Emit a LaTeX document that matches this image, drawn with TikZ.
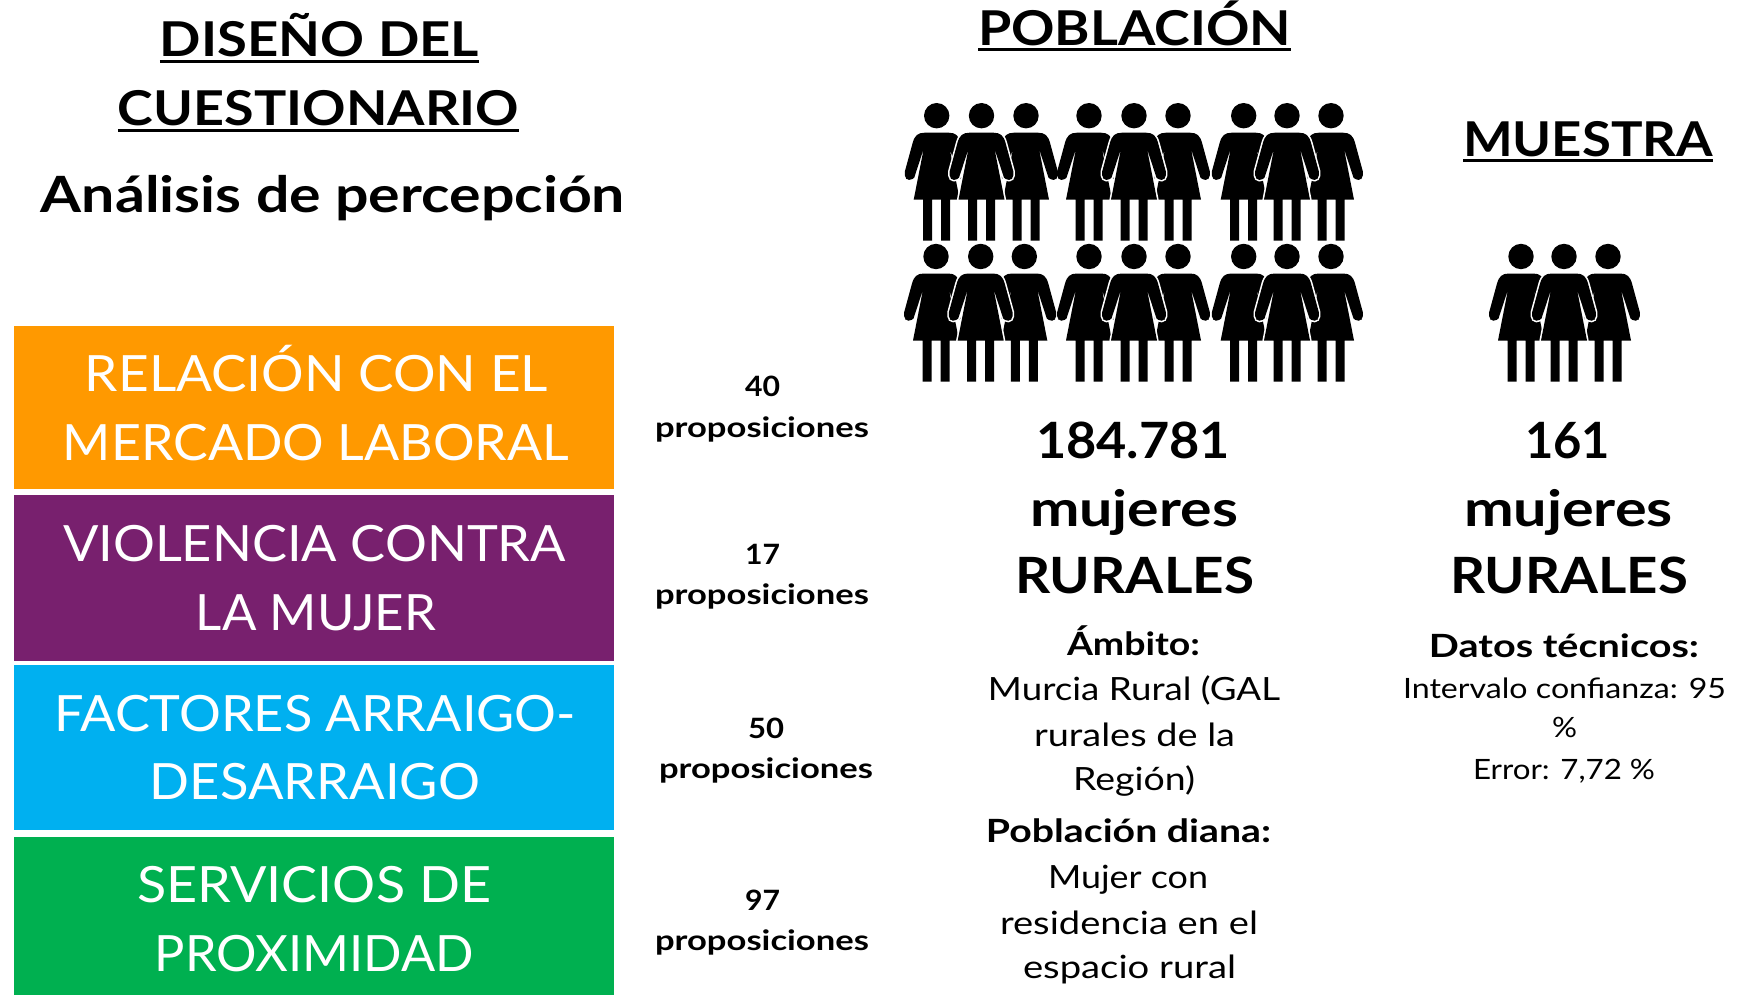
\documentclass[tikz,border=0pt]{standalone}
\usepackage{fontspec}
\setmainfont{Lato}
\definecolor{cOrange}{HTML}{FF9900}
\definecolor{cPurple}{HTML}{78206E}
\definecolor{cBlue}{HTML}{00B0F0}
\definecolor{cGreen}{HTML}{00B050}
\tikzset{
  band/.style={fill=#1,draw=none},
  lineText/.style={anchor=base,inner sep=0pt,outer sep=0pt,text=#1},
  lineText/.default=black,
  ulRule/.style={line width=1.4pt,black}
}
\newcommand{\fs}[1]{\fontsize{#1}{#1}\selectfont}
% name, x1, x2, baseline, font, text, colour
\newcommand{\tl}[7][black]{%
  \pgfmathsetmacro\tw{(#4-#3)*0.5}\pgfmathsetmacro\tc{(#4+#3)/2}%
  \node[lineText=#1] (#2) at (\tc,#5) {\resizebox{\tw pt}{\height}{#6#7}};}
\newcommand{\womanshape}{
  (-12.7,0) arc[start angle=180,end angle=-180,radius=12.7]
  (0,17) -- (12,17) .. controls (19,17) and (22,20) .. (24,27)
  [rounded corners=2.2pt] -- (33,60) -- (28,66) [rounded corners=0pt] -- (22.5,62)
  -- (13,33) -- (23,84) -- (13.5,84) -- (13.5,125) -- (4.5,125) -- (4.5,84)
  -- (-4.5,84) -- (-4.5,125) -- (-13.5,125) -- (-13.5,84) -- (-23,84) -- (-13,33)
  -- (-22.5,62) [rounded corners=2.2pt] -- (-28,66) -- (-33,60) [rounded corners=0pt]
  -- (-24,27) .. controls (-22,20) and (-19,17) .. (-12,17) -- cycle}
\newcommand{\woman}[2]{\begin{scope}[shift={(#1,#2)}]
  \fill[black] \womanshape;\end{scope}}
\newcommand{\womanhalo}[2]{\begin{scope}[shift={(#1,#2)}]
  \draw[white,line width=1.6pt,line join=round] \womanshape;
  \fill[black] \womanshape;\end{scope}}
\newcommand{\trio}[4]{\woman{#1}{#4}\woman{#3}{#4}\womanhalo{#2}{#4}}
\begin{document}
\begin{tikzpicture}[x=0.5pt,y=-0.5pt]
\useasboundingbox (0,0) rectangle (1737,995);
\fill[white] (0,0) rectangle (1737,995);
% bands
\fill[band=cOrange] (14,326) rectangle (614,489);
\fill[band=cPurple] (14,495) rectangle (614,661);
\fill[band=cBlue] (14,665) rectangle (614,830);
\fill[band=cGreen] (14,837) rectangle (614,995);
% headings
\tl{t1}{160}{479}{57}{\bfseries\fs{24}}{DISEÑO DEL}
\tl{t2}{118}{519}{126}{\bfseries\fs{24}}{CUESTIONARIO}
\tl{t3}{41}{625}{213}{\bfseries\fs{25}}{Análisis de percepción}
\draw[ulRule] ([yshift=-2.2pt]t1.base west) -- ([yshift=-2.2pt]t1.base east);
\draw[ulRule] ([yshift=-2.2pt]t2.base west) -- ([yshift=-2.2pt]t2.base east);
\tl{t4}{978}{1291}{45.5}{\bfseries\fs{24}}{POBLACIÓN}
\tl{t5}{1463}{1713}{156}{\bfseries\fs{24}}{MUESTRA}
\draw[ulRule] ([yshift=-2.2pt]t4.base west) -- ([yshift=-2.2pt]t4.base east);
\draw[ulRule] ([yshift=-2.2pt]t5.base west) -- ([yshift=-2.2pt]t5.base east);
% band texts
\tl[white]{a1}{85}{548}{392}{\fs{25}}{RELACIÓN CON EL}
\tl[white]{a2}{63}{569}{460}{\fs{25}}{MERCADO LABORAL}
\tl[white]{a3}{63}{566}{561}{\fs{25}}{VIOLENCIA CONTRA}
\tl[white]{a4}{196}{436}{630}{\fs{25}}{LA MUJER}
\tl[white]{a5}{54}{576}{731}{\fs{25}}{FACTORES ARRAIGO-}
\tl[white]{a6}{150}{480}{799}{\fs{25}}{DESARRAIGO}
\tl[white]{a7}{137}{491}{902}{\fs{25}}{SERVICIOS DE}
\tl[white]{a8}{155}{474}{971}{\fs{25}}{PROXIMIDAD}
% propositions
\tl{p1}{745}{780}{396}{\bfseries\fs{14}}{40}
\tl{q1}{655}{869}{437}{\bfseries\fs{14}}{proposiciones}
\tl{p2}{745}{780}{564}{\bfseries\fs{14}}{17}
\tl{q2}{655}{869}{604}{\bfseries\fs{14}}{proposiciones}
\tl{p3}{748}{784}{738}{\bfseries\fs{14}}{50}
\tl{q3}{659}{873}{778}{\bfseries\fs{14}}{proposiciones}
\tl{p4}{745}{780}{910}{\bfseries\fs{14}}{97}
\tl{q4}{655}{869}{950}{\bfseries\fs{14}}{proposiciones}
% figures
\trio{936.7}{981.5}{1026}{115.7}
\trio{1089}{1134}{1178}{115.7}
\trio{1243.7}{1287}{1331}{115.7}
\trio{936}{980.7}{1024.3}{256.5}
\trio{1089}{1134}{1178}{256.5}
\trio{1243.7}{1287}{1331}{256.5}
\trio{1521}{1564}{1608}{256.5}
% totals
\tl{n1}{1036}{1230}{458.5}{\bfseries\fs{25}}{184.781}
\tl{n2}{1030}{1238}{526}{\bfseries\fs{25}}{mujeres}
\tl{n3}{1015}{1254}{593}{\bfseries\fs{25}}{RURALES}
\tl{m1}{1525}{1610}{458.5}{\bfseries\fs{25}}{161}
\tl{m2}{1464}{1673}{526}{\bfseries\fs{25}}{mujeres}
\tl{m3}{1450}{1688}{593}{\bfseries\fs{25}}{RURALES}
% details
\tl{d1}{1067}{1200}{655}{\bfseries\fs{16}}{Ámbito:}
\tl{d2}{988}{1280}{700.7}{\fs{16}}{Murcia Rural (GAL}
\tl{d3}{1034}{1235}{746.7}{\fs{16}}{rurales de la}
\tl{d4}{1073}{1195}{790}{\fs{16}}{Región)}
\tl{d5}{986}{1271}{842}{\bfseries\fs{16}}{Población diana:}
\tl{d6}{1048}{1208}{888}{\fs{16}}{Mujer con}
\tl{d7}{1000}{1258}{934}{\fs{16}}{residencia en el}
\tl{d8}{1023}{1236}{978}{\fs{16}}{espacio rural}
\tl{e1}{1429}{1699}{657}{\bfseries\fs{16}}{Datos técnicos:}
\tl{e2}{1403}{1726}{698}{\fs{14}}{Intervalo confianza: 95}
\tl{e3}{1552}{1577}{737}{\fs{14}}{\%}
\tl{e4}{1473}{1655}{779}{\fs{14}}{Error: 7,72 \%}
\end{tikzpicture}
\end{document}
